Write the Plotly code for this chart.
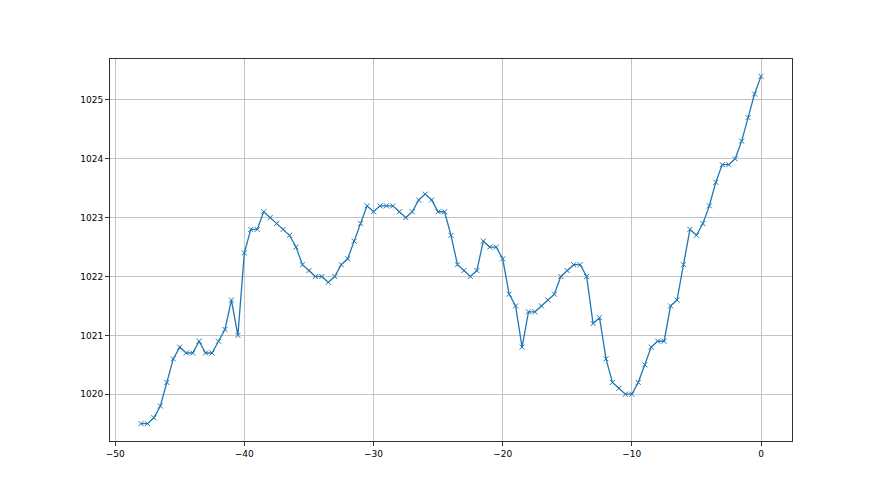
import numpy as np
import plotly.graph_objects as go

# x positions: -48 to 0 in steps of 0.5
hours = [-48.0 + 0.5 * i for i in range(97)]
pressure = [
    1019.5, 1019.5, 1019.6, 1019.8, 1020.2, 1020.6, 1020.8, 1020.7, 1020.7, 1020.9,
    1020.7, 1020.7, 1020.9, 1021.1, 1021.6, 1021.0, 1022.4, 1022.8, 1022.8, 1023.1,
    1023.0, 1022.9, 1022.8, 1022.7, 1022.5, 1022.2, 1022.1, 1022.0, 1022.0, 1021.9,
    1022.0, 1022.2, 1022.3, 1022.6, 1022.9, 1023.2, 1023.1, 1023.2, 1023.2, 1023.2,
    1023.1, 1023.0, 1023.1, 1023.3, 1023.4, 1023.3, 1023.1, 1023.1, 1022.7, 1022.2,
    1022.1, 1022.0, 1022.1, 1022.6, 1022.5, 1022.5, 1022.3, 1021.7, 1021.5, 1020.8,
    1021.4, 1021.4, 1021.5, 1021.6, 1021.7, 1022.0, 1022.1, 1022.2, 1022.2, 1022.0,
    1021.2, 1021.3, 1020.6, 1020.2, 1020.1, 1020.0, 1020.0, 1020.2, 1020.5, 1020.8,
    1020.9, 1020.9, 1021.5, 1021.6, 1022.2, 1022.8, 1022.7, 1022.9, 1023.2, 1023.6,
    1023.9, 1023.9, 1024.0, 1024.3, 1024.7, 1025.1, 1025.4,
]
x_ticks = [-50, -40, -30, -20, -10, 0]
y_ticks = [1020, 1021, 1022, 1023, 1024, 1025]

color = "#1f77b4"
fig = go.Figure()
fig.add_trace(go.Scatter(
    x=hours, y=pressure, mode="lines+markers",
    line=dict(color=color, width=1.3),
    marker=dict(symbol="x-thin", size=5, line=dict(color=color, width=1)),
    showlegend=False,
))

xmin, xmax = min(hours), max(hours)
ymin, ymax = min(pressure), max(pressure)
xm = 0.05 * (xmax - xmin)
ym = 0.05 * (ymax - ymin)

axis_common = dict(
    showline=True, linecolor="#333333", linewidth=1, mirror=True,
    ticks="outside", ticklen=4, tickwidth=1, tickcolor="#333333",
    showgrid=True, gridcolor="#c4c4c4", gridwidth=1,
    zeroline=False,
    tickfont=dict(family="DejaVu Sans", size=9, color="black"),
)
fig.update_xaxes(range=[xmin - xm, xmax + xm], tickvals=x_ticks,
                 ticktext=[str(v).replace("-", "\u2212") for v in x_ticks], **axis_common)
fig.update_yaxes(range=[ymin - ym, ymax + ym], tickvals=y_ticks,
                 ticktext=[str(v) for v in y_ticks], **axis_common)

fig.update_layout(
    width=880, height=495,
    margin=dict(l=102, r=96, t=51, b=62),
    paper_bgcolor="white", plot_bgcolor="white",
)
fig.write_html("out.html")
